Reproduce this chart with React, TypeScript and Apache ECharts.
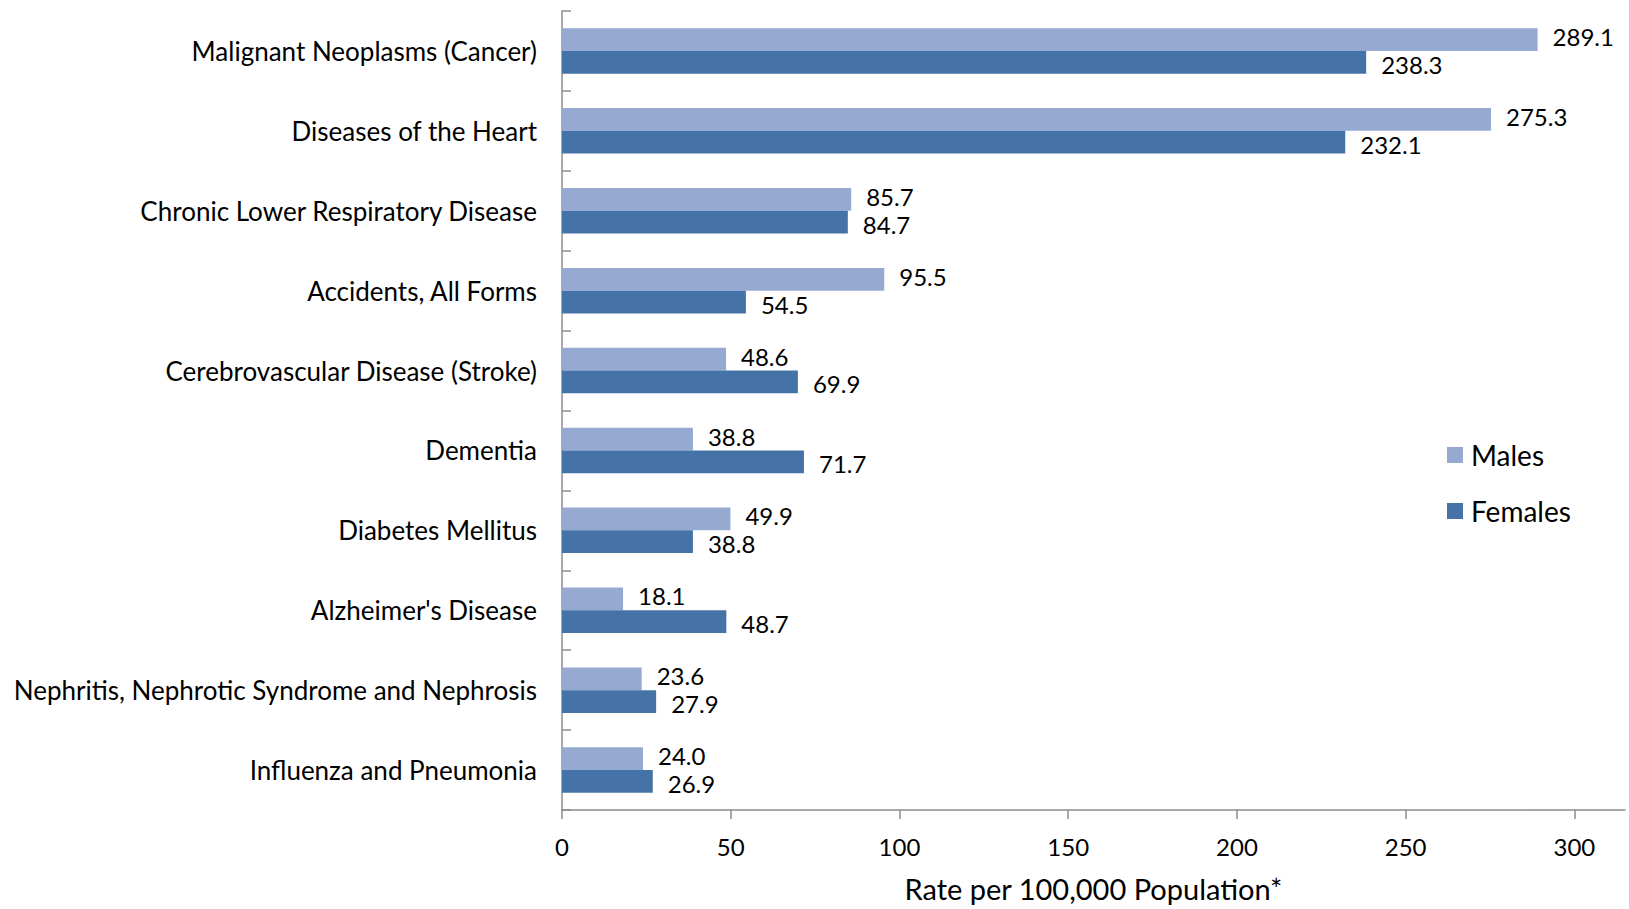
import React, { useEffect, useRef } from "react";
import * as echarts from "echarts";

const categories = [
  "Malignant Neoplasms (Cancer)",
  "Diseases of the Heart",
  "Chronic Lower Respiratory Disease",
  "Accidents, All Forms",
  "Cerebrovascular Disease (Stroke)",
  "Dementia",
  "Diabetes Mellitus",
  "Alzheimer's Disease",
  "Nephritis, Nephrotic Syndrome and Nephrosis",
  "Influenza and Pneumonia",
];
const males = [289.1, 275.3, 85.7, 95.5, 48.6, 38.8, 49.9, 18.1, 23.6, 24.0];
const females = [238.3, 232.1, 84.7, 54.5, 69.9, 71.7, 38.8, 48.7, 27.9, 26.9];
const xTicks = [0, 50, 100, 150, 200, 250, 300];

const FONT = "Lato, 'Open Sans', sans-serif";

export default function App() {
  const ref = useRef<HTMLDivElement>(null);
  useEffect(() => {
    if (!ref.current) return;
    const chart = echarts.init(ref.current, null, { renderer: "svg" });
    const labelStyle = (dy: number) => ({
      show: true,
      position: "right" as const,
      distance: 15,
      offset: [0, dy],
      fontSize: 24,
      lineHeight: 20,
      fontFamily: FONT,
      color: "#000",
      formatter: (p: any) => Number(p.value).toFixed(1),
    });
    chart.setOption({
      animation: false,
      backgroundColor: "#fff",
      textStyle: { fontFamily: FONT },
      grid: { left: 562, right: 4, top: 11, bottom: 99, containLabel: false },
      legend: {
        orient: "vertical",
        left: 1442,
        top: 436,
        icon: "rect",
        itemWidth: 16,
        itemHeight: 16,
        itemGap: 28,
        textStyle: { fontSize: 28, fontFamily: FONT, color: "#000", padding: [0, 0, 0, 3] },
        data: ["Males", "Females"],
      },
      xAxis: {
        type: "value",
        min: 0,
        max: 315,
        interval: 50,
        splitLine: { show: false },
        axisLine: { show: true, lineStyle: { color: "#8c8c8c", width: 1.5 } },
        axisTick: {
          show: true,
          length: 9,
          customValues: xTicks,
          lineStyle: { color: "#8c8c8c", width: 1.5 },
        },
        axisLabel: {
          customValues: xTicks,
          fontSize: 24,
          fontFamily: FONT,
          color: "#000",
          margin: 24,
        },
        name: "Rate per 100,000 Population*",
        nameLocation: "middle",
        nameGap: 64,
        nameTextStyle: { fontSize: 29, fontFamily: FONT, color: "#000" },
      },
      yAxis: {
        type: "category",
        data: categories,
        inverse: true,
        axisLine: { show: true, lineStyle: { color: "#8c8c8c", width: 1.5 } },
        axisTick: {
          show: true,
          inside: true,
          length: 9,
          alignWithLabel: false,
          lineStyle: { color: "#8c8c8c", width: 1.5 },
        },
        axisLabel: {
          fontSize: 26,
          fontFamily: FONT,
          color: "#000",
          margin: 25,
          interval: 0,
        },
      },
      series: [
        {
          name: "Males",
          type: "bar",
          data: males,
          barGap: "0%",
          barCategoryGap: "43%",
          itemStyle: { color: "#95A9D1" },
          label: labelStyle(-3),
        },
        {
          name: "Females",
          type: "bar",
          data: females,
          barGap: "0%",
          barCategoryGap: "43%",
          itemStyle: { color: "#4573A7" },
          label: labelStyle(2),
        },
      ],
    });
    return () => chart.dispose();
  }, []);
  return (
    <div
      ref={ref}
      style={{ position: "absolute", left: 0, top: 0, width: 1629, height: 909 }}
    />
  );
}
